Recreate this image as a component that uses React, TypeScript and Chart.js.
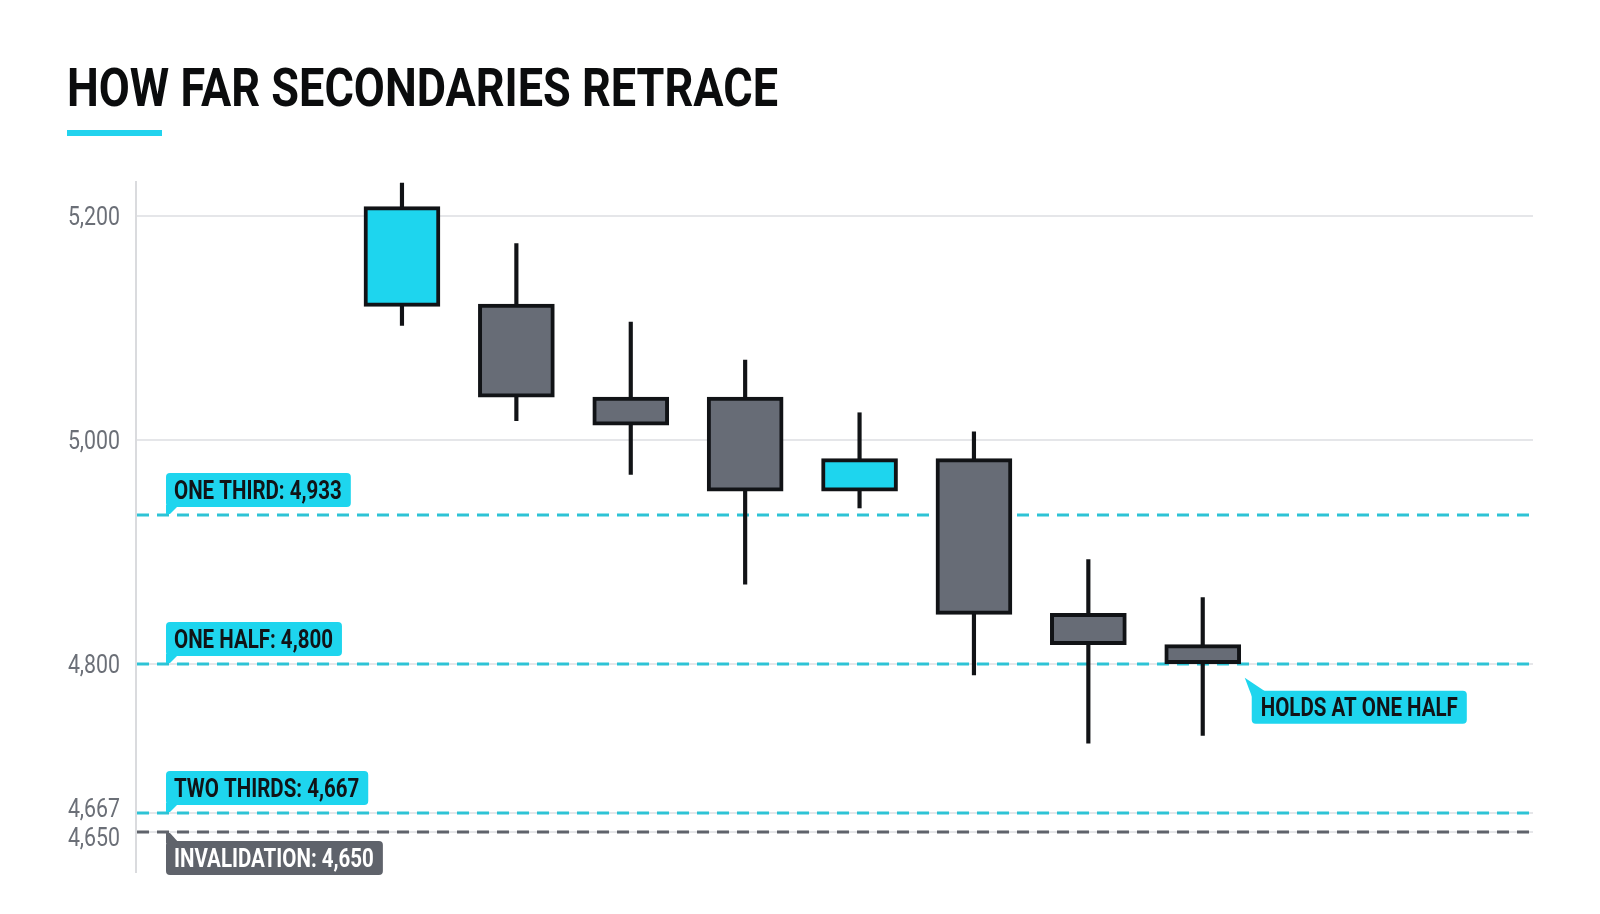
import { useEffect, useRef } from "react";
import * as React from "react";
import { Chart, registerables } from "chart.js";

Chart.register(...registerables);

// candles, left to right
const candleIds = [1, 2, 3, 4, 5, 6, 7, 8];
const opens = [5119, 5121, 5038, 5038, 4954, 4983, 4845, 4817];
const highs = [5229, 5175, 5105, 5071, 5024, 5007, 4893, 4859];
const lows = [5102, 5017, 4969, 4871, 4939, 4790, 4729, 4736];
const closes = [5208, 5038, 5013, 4954, 4983, 4844, 4817, 4800];

const tickValues = [5200, 5000, 4800, 4667, 4650];

const levelNames = ["ONE THIRD", "ONE HALF", "TWO THIRDS", "INVALIDATION"];
const levelValues = [4933, 4800, 4667, 4650];

const noteText = "HOLDS AT ONE HALF";
const noteCandle = 8;

const TITLE = "HOW FAR SECONDARIES RETRACE";

const CYAN = "#1ed5ee";
const CYAN_LINE = "#2ec3d5";
const BODY_GRAY = "#676c76";
const STOP_GRAY = "#5f636b";
const INK = "#111316";
const SQUEEZE = 0.82;
const TAG_FONT = "700 25px Roboto";

const fmt = (v: number) => v.toLocaleString("en-US");

function squeezed(ctx: CanvasRenderingContext2D, text: string, x: number, y: number, align: "left" | "right") {
  const w = ctx.measureText(text).width * SQUEEZE;
  ctx.save();
  ctx.translate(align === "right" ? x - w : x, y);
  ctx.scale(SQUEEZE, 1);
  ctx.textAlign = "left";
  ctx.textBaseline = "alphabetic";
  ctx.fillText(text, 0, 0);
  ctx.restore();
  return w;
}

function levelTag(ctx: CanvasRenderingContext2D, text: string, x: number, lineY: number, below: boolean, fill: string, ink: string) {
  ctx.font = TAG_FONT;
  const w = ctx.measureText(text).width * SQUEEZE + 17;
  const h = 34;
  const top = below ? lineY + 9 : lineY - 8 - h;
  ctx.fillStyle = fill;
  ctx.beginPath();
  ctx.roundRect(x, top, w, h, 4);
  ctx.fill();
  ctx.beginPath();
  if (below) {
    ctx.moveTo(x, lineY + 1);
    ctx.lineTo(x + 4, lineY + 1);
    ctx.lineTo(x + 13, top + 2);
    ctx.lineTo(x, top + 2);
  } else {
    ctx.moveTo(x, top + h - 2);
    ctx.lineTo(x + 13, top + h - 2);
    ctx.lineTo(x + 4, lineY - 1);
    ctx.lineTo(x, lineY - 1);
  }
  ctx.closePath();
  ctx.fill();
  ctx.fillStyle = ink;
  squeezed(ctx, text, x + 8, top + h / 2 + 9, "left");
}

const levelsPlugin = {
  id: "levels",
  beforeDatasetsDraw(chart: any) {
    const { ctx, chartArea, scales } = chart;
    ctx.save();
    ctx.lineWidth = 3;
    ctx.setLineDash([12, 8]);
    levelValues.forEach((v, i) => {
      const py = Math.round(scales.y.getPixelForValue(v));
      ctx.strokeStyle = levelNames[i] === "INVALIDATION" ? STOP_GRAY : CYAN_LINE;
      ctx.beginPath();
      ctx.moveTo(chartArea.left + 1, py);
      ctx.lineTo(chartArea.right, py);
      ctx.stroke();
    });
    ctx.restore();
  },
  afterDatasetsDraw(chart: any) {
    const { ctx, chartArea, scales } = chart;
    ctx.save();

    // y tick labels (the two close bottom ones pushed apart a little)
    ctx.font = "400 26px Roboto";
    ctx.fillStyle = "#6b6f77";
    tickValues.forEach((v) => {
      const py = scales.y.getPixelForValue(v);
      const nudge = v === 4667 ? -5 : v === 4650 ? 5 : 0;
      squeezed(ctx, fmt(v), chartArea.left - 16, py + 9 + nudge, "right");
    });

    // level tags
    levelValues.forEach((v, i) => {
      const py = Math.round(scales.y.getPixelForValue(v));
      const stop = levelNames[i] === "INVALIDATION";
      levelTag(ctx, `${levelNames[i]}: ${fmt(v)}`, chartArea.left + 30, py, stop, stop ? STOP_GRAY : CYAN, stop ? "#ffffff" : INK);
    });

    // note on the last candle
    const k = candleIds.indexOf(noteCandle);
    const px = scales.x.getPixelForValue(noteCandle);
    const py = scales.y.getPixelForValue(closes[k]);
    const tipX = px + 42;
    const tipY = py + 14;
    const bx = px + 49;
    const by = py + 27;
    ctx.font = TAG_FONT;
    const w = ctx.measureText(noteText).width * SQUEEZE + 18;
    ctx.fillStyle = CYAN;
    ctx.beginPath();
    ctx.roundRect(bx, by, w, 33, 4);
    ctx.fill();
    ctx.beginPath();
    ctx.moveTo(tipX, tipY);
    ctx.lineTo(bx + 14, by + 1);
    ctx.lineTo(bx + 1, by + 8);
    ctx.closePath();
    ctx.fill();
    ctx.fillStyle = INK;
    squeezed(ctx, noteText, bx + 9, by + 16.5 + 9, "left");

    ctx.restore();
  },
};

const CandleChart: React.FC = () => {
  const chartRef = useRef<HTMLCanvasElement>(null);

  useEffect(() => {
    if (!chartRef.current) return;
    const chart = new Chart(chartRef.current, {
      type: "bar",
      data: {
        datasets: [
          {
            label: "body",
            data: candleIds.map((x, i) => ({ x, y: [opens[i], closes[i]] })) as any,
            backgroundColor: candleIds.map((_, i) => (closes[i] >= opens[i] ? CYAN : BODY_GRAY)),
            borderColor: INK,
            borderWidth: 4,
            borderSkipped: false,
            barThickness: 76,
            grouped: false,
            order: 0,
          },
          {
            label: "wick",
            data: candleIds.map((x, i) => ({ x, y: [lows[i], highs[i]] })) as any,
            backgroundColor: INK,
            borderWidth: 0,
            barThickness: 3.5,
            grouped: false,
            order: 1,
          },
        ],
      },
      options: {
        animation: false,
        responsive: false,
        devicePixelRatio: 1,
        layout: { padding: { left: 136, right: 67, top: 182, bottom: 42 } },
        plugins: { legend: { display: false }, tooltip: { enabled: false } },
        scales: {
          x: { type: "linear", min: -1.325, max: 10.887, offset: false, display: false, grid: { offset: false } },
          y: {
            type: "linear",
            min: 4614,
            max: 5230,
            afterBuildTicks: (scale: any) => {
              scale.ticks = tickValues.map((value) => ({ value }));
            },
            ticks: { display: false },
            grid: { color: "#e5e6e9", lineWidth: 2, drawTicks: false },
            border: { display: true, color: "#dadbde", width: 2 },
          },
        },
      },
      plugins: [levelsPlugin],
    });
    return () => chart.destroy();
  }, []);

  return (
    <canvas
      ref={chartRef}
      width={1600}
      height={914}
      style={{ position: "absolute", left: 0, top: 0, width: 1600, height: 914 }}
    />
  );
};

function titleScale() {
  const c = document.createElement("canvas").getContext("2d");
  if (!c) return 0.82;
  c.font = "700 54px Roboto";
  return 711 / c.measureText(TITLE).width;
}

export default function App() {
  const sx = React.useMemo(titleScale, []);
  return (
    <div style={{ position: "absolute", left: 0, top: 0, width: 1600, height: 914, background: "#ffffff", overflow: "hidden" }}>
      <CandleChart />
      <div
        style={{
          position: "absolute",
          left: 67,
          top: 61,
          fontFamily: "Roboto",
          fontWeight: 700,
          fontSize: 54,
          lineHeight: "54px",
          color: "#0b0c0d",
          whiteSpace: "nowrap",
          transform: `scaleX(${sx})`,
          transformOrigin: "left top",
        }}
      >
        {TITLE}
      </div>
      <div style={{ position: "absolute", left: 67, top: 130, width: 95, height: 6, background: "#22d3ee" }} />
    </div>
  );
}
